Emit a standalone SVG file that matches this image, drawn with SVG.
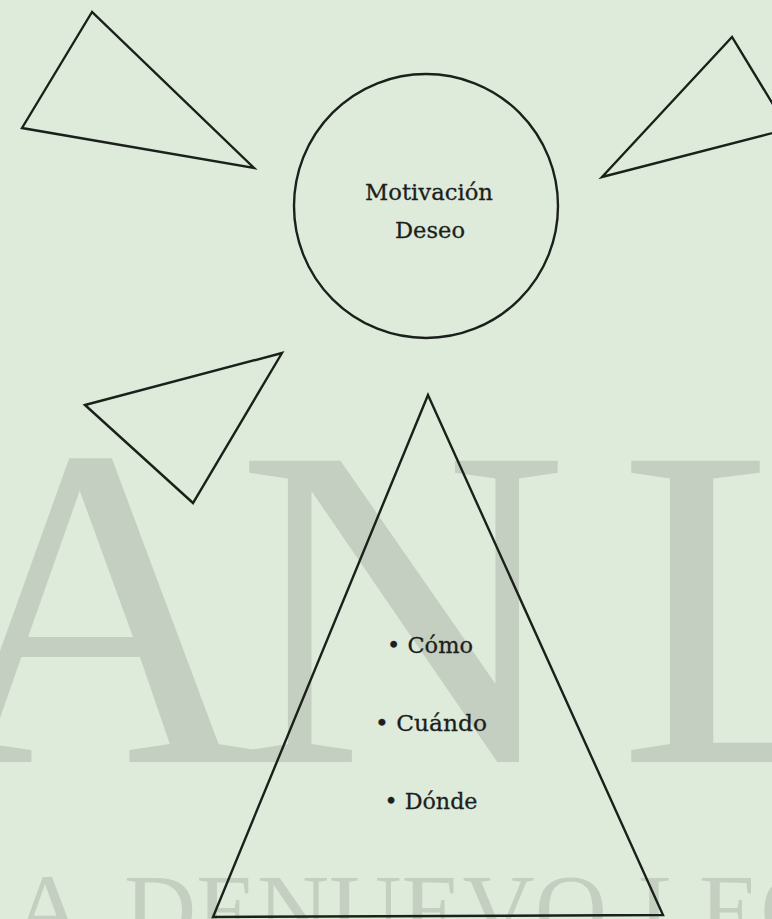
<svg xmlns="http://www.w3.org/2000/svg" width="772" height="919" viewBox="0 0 772 919">
<style>
.wm{font-family:"Liberation Serif","Times New Roman",serif;fill:#c4cfc1}
.shape{fill:none;stroke:#1b201b;stroke-width:2.4;stroke-linejoin:miter}
.lbl{font-family:"DejaVu Serif","Liberation Serif",serif;font-size:22.5px;fill:#1c1f1c;stroke:#1c1f1c;stroke-width:0.3;text-anchor:middle}
</style>
<rect x="0" y="0" width="772" height="919" fill="#deebdb"/>
<g id="watermark">
<text class="wm" font-size="460" x="94" y="762" text-anchor="middle">A</text>
<text class="wm" font-size="460" x="236" y="762">N</text>
<text class="wm" font-size="460" x="618" y="762">L</text>
<text class="wm" font-size="100" y="943"><tspan x="12">A</tspan><tspan x="124">DE</tspan><tspan x="257">NUEVO</tspan><tspan x="638">LEÓN</tspan></text>
</g>
<g id="connectors"></g>
<g id="circle-node">
<circle class="shape" cx="426" cy="206" r="132"/>
<text class="lbl" x="429" y="200" textLength="128" lengthAdjust="spacingAndGlyphs">Motivación</text>
<text class="lbl" x="430" y="238" textLength="70" lengthAdjust="spacingAndGlyphs">Deseo</text>
</g>
<g id="triangle-top-left">
<polygon class="shape" points="92,12 22,128 254,168"/>
</g>
<g id="triangle-top-right">
<polygon class="shape" points="732,37 602,177 788,129"/>
</g>
<g id="triangle-bottom-left">
<polygon class="shape" points="85,405 282,353 193,503"/>
</g>
<g id="triangle-main">
<polygon class="shape" points="428,395 213,917 663,915"/>
<text class="lbl" x="430" y="653" textLength="86" lengthAdjust="spacingAndGlyphs">• Cómo</text>
<text class="lbl" x="431" y="731" textLength="112" lengthAdjust="spacingAndGlyphs">• Cuándo</text>
<text class="lbl" x="431" y="809" textLength="93" lengthAdjust="spacingAndGlyphs">• Dónde</text>
</g>
</svg>
